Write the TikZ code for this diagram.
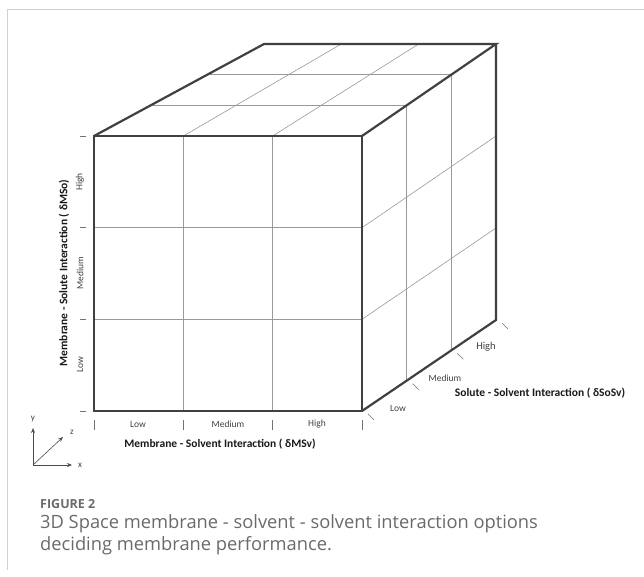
\documentclass[tikz,border=0pt]{standalone}
\usepackage{fontspec}
\setmainfont{Carlito}
\newfontfamily\capfont{Open Sans}
\usetikzlibrary{calc,arrows.meta}
\definecolor{capgray}{HTML}{6A6A6A}
\begin{document}
\begin{tikzpicture}[x=1pt,y=-1pt,
  edge/.style={line width=2.2pt, draw=black!75, line join=miter},
  gridln/.style={line width=0.6pt, draw=black!40},
  tickln/.style={line width=0.6pt, draw=black!55},
  lbl/.style={font=\fontsize{9.5}{11}\selectfont, text=black!75, inner sep=0},
  ttl/.style={font=\bfseries\fontsize{11.5}{13}\selectfont, text=black!90, inner sep=0},
  axl/.style={font=\fontsize{9}{10}\selectfont, text=black!75, inner sep=0},
  axarrow/.style={line width=0.6pt, draw=black!70, -{Stealth[length=5pt,width=4pt]}}]
\useasboundingbox (0,0) rectangle (644,577);
% frame
\draw[black!18, line width=1pt] (7,570) -- (7,10) -- (644,10);
% cube corners
\coordinate (FTL) at (94,136);
\coordinate (FTR) at (362,136);
\coordinate (FBL) at (94,411);
\coordinate (FBR) at (362,411);
\coordinate (BTL) at (264,44);
\coordinate (BTR) at (496,44);
\coordinate (BBR) at (496,320);
% grid lines
\foreach \f in {1/3,2/3}{
  \draw[gridln] ($(FTL)!\f!(FTR)$) -- ($(FBL)!\f!(FBR)$);
  \draw[gridln] ($(FTL)!\f!(FBL)$) -- ($(FTR)!\f!(FBR)$);
  \draw[gridln] ($(FTL)!\f!(BTL)$) -- ($(FTR)!\f!(BTR)$);
  \draw[gridln] ($(FTL)!\f!(FTR)$) -- ($(BTL)!\f!(BTR)$);
  \draw[gridln] ($(FTR)!\f!(BTR)$) -- ($(FBR)!\f!(BBR)$);
  \draw[gridln] ($(FTR)!\f!(FBR)$) -- ($(BTR)!\f!(BBR)$);
}
% outer edges
\draw[edge] (FTL) -- (FTR) -- (FBR) -- (FBL) -- cycle;
\draw[edge] (FTL) -- (BTL) -- (BTR) -- (FTR);
\draw[edge] (BTR) -- (BBR) -- (FBR);
% left axis
\foreach \f in {0,1/3,2/3,1}{
  \draw[tickln] ($(FTL)!\f!(FBL)+(-14,0)$) -- ($(FTL)!\f!(FBL)+(-8,0)$);
}
\node[lbl, rotate=90] (yhigh) at (80,182) {High};
\node[lbl, rotate=90] (ymed) at (80,273) {Medium};
\node[lbl, rotate=90] (ylow) at (80,365) {Low};
\node[ttl, rotate=90] (ytitle) at (64,273) {Membrane - Solute Interaction ( δMSo)};
% bottom axis
\foreach \f in {0,1/3,2/3,1}{
  \draw[tickln] ($(FBL)!\f!(FBR)+(0,9)$) -- ($(FBL)!\f!(FBR)+(0,19)$);
}
\node[lbl] (xlow) at (138,424) {Low};
\node[lbl] (xmed) at (228,424) {Medium};
\node[lbl] (xhigh) at (317,424) {High};
\node[ttl] (xtitle) at (220,444) {Membrane - Solvent Interaction ( δMSv)};
% depth axis
\foreach \f in {0,1/3,2/3,1}{
  \draw[tickln] ($(FBR)!\f!(BBR)+(6,3)$) -- ($(FBR)!\f!(BBR)+(12,9)$);
}
\node[lbl] (zlow) at (398,408) {Low};
\node[lbl] (zmed) at (445,378) {Medium};
\node[lbl, font=\fontsize{10.5}{12}\selectfont] (zhigh) at (486,347) {High};
\node[ttl] (ztitle) at (540,393) {Solute - Solvent Interaction ( δSoSv)};
% axes icon
\coordinate (O) at (33,465);
\coordinate (Yend) at (33,428);
\coordinate (Xend) at (72,465);
\coordinate (Zend) at (63,437);
\draw[axarrow] (O) -- (Yend);
\draw[axarrow] (O) -- (Xend);
\draw[axarrow] (O) -- (Zend);
\node[axl] (ylab) at (33,419) {y};
\node[axl] (xlab) at (80,465) {x};
\node[axl] (zlab) at (72,432) {z};
% caption
\node[anchor=base west, inner sep=0, font=\capfont\bfseries\fontsize{12.5}{14}\selectfont, text=capgray] (fig) at (40,508) {FIGURE 2};
\node[anchor=base west, inner sep=0, align=left, font=\capfont\fontsize{18.3}{22}\selectfont, text=capgray] (cap) at (40,550) {3D Space membrane - solvent - solvent interaction options\\deciding membrane performance.};
\end{tikzpicture}
\end{document}
